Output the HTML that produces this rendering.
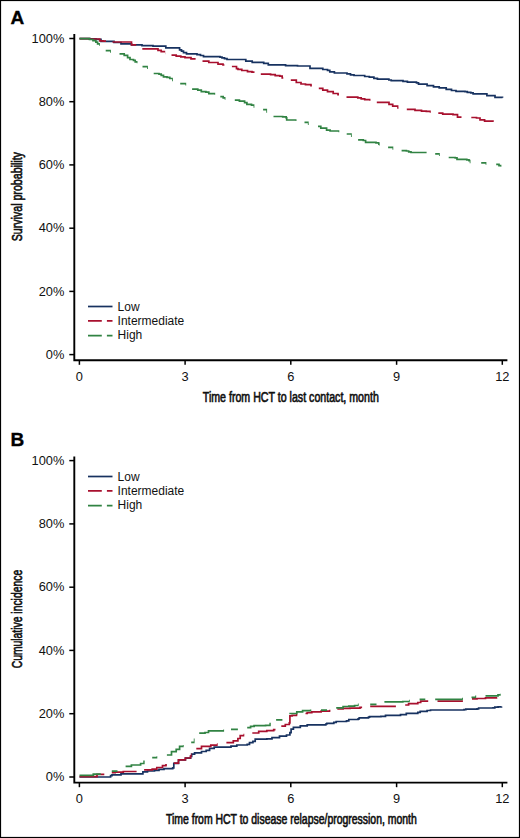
<!DOCTYPE html>
<html><head><meta charset="utf-8"><style>
html,body{margin:0;padding:0;background:#fff;}
body{width:520px;height:838px;overflow:hidden;}
svg{display:block;}
text{font-family:"Liberation Sans", sans-serif;fill:#111;}
.tl{font-size:12px;}
.lg{font-size:12px;}
.tt{font-size:14px;stroke:#111;stroke-width:0.65px;}
.pl{font-size:19px;font-weight:bold;fill:#000;stroke:#000;stroke-width:0.35px;}
</style></head><body>
<svg width="520" height="838" viewBox="0 0 520 838">
<defs><clipPath id="cra"><rect x="79.0" y="0" width="27.0" height="838"/><rect x="112.5" y="0" width="23.7" height="838"/><rect x="142.3" y="0" width="22.9" height="838"/><rect x="171.5" y="0" width="24.1" height="838"/><rect x="202.5" y="0" width="21.9" height="838"/><rect x="231.9" y="0" width="22.6" height="838"/><rect x="260.8" y="0" width="22.5" height="838"/><rect x="290.8" y="0" width="21.1" height="838"/><rect x="318.8" y="0" width="20.2" height="838"/><rect x="346.5" y="0" width="24.0" height="838"/><rect x="376.8" y="0" width="21.7" height="838"/><rect x="406.8" y="0" width="24.0" height="838"/><rect x="438.3" y="0" width="23.2" height="838"/><rect x="471.3" y="0" width="22.5" height="838"/></clipPath><clipPath id="cga"><rect x="79.0" y="0" width="20.9" height="838"/><rect x="105.7" y="0" width="5.2" height="838"/><rect x="119.5" y="0" width="18.0" height="838"/><rect x="142.5" y="0" width="5.4" height="838"/><rect x="153.7" y="0" width="19.2" height="838"/><rect x="180.2" y="0" width="6.0" height="838"/><rect x="192.1" y="0" width="23.1" height="838"/><rect x="220.3" y="0" width="5.2" height="838"/><rect x="234.8" y="0" width="19.6" height="838"/><rect x="263.1" y="0" width="4.0" height="838"/><rect x="273.5" y="0" width="23.0" height="838"/><rect x="304.5" y="0" width="4.2" height="838"/><rect x="318.0" y="0" width="21.3" height="838"/><rect x="346.7" y="0" width="5.1" height="838"/><rect x="358.1" y="0" width="21.6" height="838"/><rect x="388.1" y="0" width="5.2" height="838"/><rect x="401.6" y="0" width="25.0" height="838"/><rect x="435.2" y="0" width="4.6" height="838"/><rect x="448.7" y="0" width="21.8" height="838"/><rect x="481.2" y="0" width="5.2" height="838"/><rect x="496.2" y="0" width="5.2" height="838"/></clipPath><clipPath id="crb"><rect x="79.0" y="0" width="25.3" height="838"/><rect x="111.8" y="0" width="24.8" height="838"/><rect x="144.1" y="0" width="22.8" height="838"/><rect x="173.8" y="0" width="17.9" height="838"/><rect x="196.3" y="0" width="21.4" height="838"/><rect x="226.4" y="0" width="17.9" height="838"/><rect x="252.3" y="0" width="23.2" height="838"/><rect x="281.3" y="0" width="16.1" height="838"/><rect x="305.5" y="0" width="24.9" height="838"/><rect x="337.3" y="0" width="24.8" height="838"/><rect x="370.2" y="0" width="25.7" height="838"/><rect x="405.2" y="0" width="23.0" height="838"/><rect x="437.5" y="0" width="25.4" height="838"/><rect x="472.0" y="0" width="25.3" height="838"/></clipPath><clipPath id="cgb"><rect x="79.0" y="0" width="21.8" height="838"/><rect x="111.8" y="0" width="5.7" height="838"/><rect x="125.6" y="0" width="19.1" height="838"/><rect x="152.2" y="0" width="5.1" height="838"/><rect x="166.9" y="0" width="16.8" height="838"/><rect x="191.2" y="0" width="3.4" height="838"/><rect x="199.2" y="0" width="24.9" height="838"/><rect x="231.0" y="0" width="6.9" height="838"/><rect x="247.2" y="0" width="23.6" height="838"/><rect x="276.1" y="0" width="6.3" height="838"/><rect x="289.3" y="0" width="22.0" height="838"/><rect x="321.0" y="0" width="6.0" height="838"/><rect x="336.2" y="0" width="22.5" height="838"/><rect x="370.2" y="0" width="6.3" height="838"/><rect x="384.4" y="0" width="25.4" height="838"/><rect x="419.6" y="0" width="5.7" height="838"/><rect x="435.2" y="0" width="27.7" height="838"/><rect x="471.5" y="0" width="4.7" height="838"/><rect x="485.5" y="0" width="15.2" height="838"/></clipPath></defs>
<rect x="0" y="0" width="520" height="838" fill="#fff"/>
<rect x="0.5" y="0.5" width="519" height="837" fill="none" stroke="#000" stroke-width="1.2"/>
<path d="M74.3 34.0V360.2H507.4" stroke="#000" stroke-width="1.9" fill="none" stroke-linejoin="miter"/>
<path d="M69.3 354.6H74.3" stroke="#000" stroke-width="1.5"/>
<text transform="translate(64.3 358.8) scale(1.070 1)" text-anchor="end" class="tl">0%</text>
<path d="M69.3 291.4H74.3" stroke="#000" stroke-width="1.5"/>
<text transform="translate(64.3 295.6) scale(1.070 1)" text-anchor="end" class="tl">20%</text>
<path d="M69.3 228.2H74.3" stroke="#000" stroke-width="1.5"/>
<text transform="translate(64.3 232.4) scale(1.070 1)" text-anchor="end" class="tl">40%</text>
<path d="M69.3 164.9H74.3" stroke="#000" stroke-width="1.5"/>
<text transform="translate(64.3 169.1) scale(1.070 1)" text-anchor="end" class="tl">60%</text>
<path d="M69.3 101.7H74.3" stroke="#000" stroke-width="1.5"/>
<text transform="translate(64.3 105.9) scale(1.070 1)" text-anchor="end" class="tl">80%</text>
<path d="M69.3 38.5H74.3" stroke="#000" stroke-width="1.5"/>
<text transform="translate(64.3 42.7) scale(1.070 1)" text-anchor="end" class="tl">100%</text>
<path d="M79.4 360.2V364.8" stroke="#000" stroke-width="1.5"/>
<text transform="translate(79.4 380.6) scale(1.070 1)" text-anchor="middle" class="tl">0</text>
<path d="M185.1 360.2V364.8" stroke="#000" stroke-width="1.5"/>
<text transform="translate(185.1 380.6) scale(1.070 1)" text-anchor="middle" class="tl">3</text>
<path d="M290.8 360.2V364.8" stroke="#000" stroke-width="1.5"/>
<text transform="translate(290.8 380.6) scale(1.070 1)" text-anchor="middle" class="tl">6</text>
<path d="M396.6 360.2V364.8" stroke="#000" stroke-width="1.5"/>
<text transform="translate(396.6 380.6) scale(1.070 1)" text-anchor="middle" class="tl">9</text>
<path d="M502.3 360.2V364.8" stroke="#000" stroke-width="1.5"/>
<text transform="translate(502.3 380.6) scale(1.070 1)" text-anchor="middle" class="tl">12</text>
<text x="290.8" y="401.8" text-anchor="middle" class="tt" textLength="176.0" lengthAdjust="spacingAndGlyphs">Time from HCT to last contact, month</text>
<text transform="translate(22.1 196.7) rotate(-90)" x="0" y="0" text-anchor="middle" class="tt" textLength="89.2" lengthAdjust="spacingAndGlyphs">Survival probability</text>
<text x="10.6" y="23.9" class="pl">A</text>
<path d="M88 306.5H112.5" stroke="#173260" stroke-width="1.70"/>
<path d="M88 320.9H112.5" stroke="#a8102e" stroke-width="1.70" stroke-dasharray="13.8 5.1"/>
<path d="M88 335.6H112.5" stroke="#318343" stroke-width="1.70" stroke-dasharray="13.8 5.1"/>
<text x="117.6" y="310.6" class="lg">Low</text>
<text x="117.6" y="324.8" class="lg">Intermediate</text>
<text x="117.6" y="339.1" class="lg">High</text>
<path d="M74.3 456.4V782.6H507.4" stroke="#000" stroke-width="1.9" fill="none" stroke-linejoin="miter"/>
<path d="M69.3 777.0H74.3" stroke="#000" stroke-width="1.5"/>
<text transform="translate(64.3 781.2) scale(1.070 1)" text-anchor="end" class="tl">0%</text>
<path d="M69.3 713.7H74.3" stroke="#000" stroke-width="1.5"/>
<text transform="translate(64.3 717.9) scale(1.070 1)" text-anchor="end" class="tl">20%</text>
<path d="M69.3 650.4H74.3" stroke="#000" stroke-width="1.5"/>
<text transform="translate(64.3 654.6) scale(1.070 1)" text-anchor="end" class="tl">40%</text>
<path d="M69.3 587.2H74.3" stroke="#000" stroke-width="1.5"/>
<text transform="translate(64.3 591.4) scale(1.070 1)" text-anchor="end" class="tl">60%</text>
<path d="M69.3 523.9H74.3" stroke="#000" stroke-width="1.5"/>
<text transform="translate(64.3 528.1) scale(1.070 1)" text-anchor="end" class="tl">80%</text>
<path d="M69.3 460.6H74.3" stroke="#000" stroke-width="1.5"/>
<text transform="translate(64.3 464.8) scale(1.070 1)" text-anchor="end" class="tl">100%</text>
<path d="M79.4 782.6V787.2" stroke="#000" stroke-width="1.5"/>
<text transform="translate(79.4 803.0) scale(1.070 1)" text-anchor="middle" class="tl">0</text>
<path d="M185.1 782.6V787.2" stroke="#000" stroke-width="1.5"/>
<text transform="translate(185.1 803.0) scale(1.070 1)" text-anchor="middle" class="tl">3</text>
<path d="M290.8 782.6V787.2" stroke="#000" stroke-width="1.5"/>
<text transform="translate(290.8 803.0) scale(1.070 1)" text-anchor="middle" class="tl">6</text>
<path d="M396.6 782.6V787.2" stroke="#000" stroke-width="1.5"/>
<text transform="translate(396.6 803.0) scale(1.070 1)" text-anchor="middle" class="tl">9</text>
<path d="M502.3 782.6V787.2" stroke="#000" stroke-width="1.5"/>
<text transform="translate(502.3 803.0) scale(1.070 1)" text-anchor="middle" class="tl">12</text>
<text x="291.4" y="824.2" text-anchor="middle" class="tt" textLength="250.8" lengthAdjust="spacingAndGlyphs">Time from HCT to disease relapse/progression, month</text>
<text transform="translate(22.1 619.1) rotate(-90)" x="0" y="0" text-anchor="middle" class="tt" textLength="98.5" lengthAdjust="spacingAndGlyphs">Cumulative incidence</text>
<text x="10.6" y="445.9" class="pl">B</text>
<path d="M88 476.5H112.5" stroke="#173260" stroke-width="1.70"/>
<path d="M88 490.9H112.5" stroke="#a8102e" stroke-width="1.70" stroke-dasharray="13.8 5.1"/>
<path d="M88 505.6H112.5" stroke="#318343" stroke-width="1.70" stroke-dasharray="13.8 5.1"/>
<text x="117.6" y="480.6" class="lg">Low</text>
<text x="117.6" y="494.8" class="lg">Intermediate</text>
<text x="117.6" y="509.1" class="lg">High</text>
<g fill="none" stroke-width="1.70" stroke-linejoin="miter" stroke-linecap="butt">
<path d="M79.5 38.6H90.0V38.8H96.0V39.4H101.0V41.3H114.0V42.5H121.0V43.8H131.5V44.9H142.0V45.6H153.0V46.2H165.8V47.9H179.6V49.8H181.5V51.2H183.5V52.6H186.5V53.8H197.0V54.6H200.5V55.5H203.5V56.6H220.0V57.2H222.0V57.9H224.5V58.7H227.0V59.5H245.8V61.2H252.2V62.4H263.7V63.4H268.3V64.8H285.6V65.6H297.5V66.0H310.0V68.3H322.8V69.5H327.5V70.4H329.8V71.9H334.4V73.0H347.0V73.8H350.5V74.8H354.0V75.5H364.7V76.5H369.3V77.2H373.9V78.3H377.4V79.2H388.9V80.0H391.2V80.6H403.0V81.4H407.4V82.2H416.5V82.8H418.5V84.1H427.1V85.6H433.5V86.8H439.2V87.9H446.2V89.4H451.5V90.5H456.0V91.3H465.0V91.6H467.3V92.4H470.8V92.9H473.1V93.9H486.9V95.6H495.0V97.4H502.5V97.8" stroke="#173260"/>
<path d="M79.5 38.6H89.0V39.0H99.8V40.8H103.0V41.2H107.0V42.0H131.5V44.9H140.7V48.9H158.0V50.4H161.2V51.7H166.0V53.5H169.9V55.1H176.2V56.2H180.8V56.9H185.0V57.7H191.0V58.8H199.0V60.3H200.9V61.1H208.8V62.5H218.0V64.2H223.0V65.0H229.0V66.0H230.3V66.5H236.5V68.6H238.0V69.3H241.8V70.5H247.5V71.6H252.0V72.2H258.0V73.5H259.2V74.2H270.6V74.7H275.2V75.7H279.8V76.2H282.2V78.0H287.0V79.0H289.2V80.2H296.3V82.5H301.0V84.0H305.5V84.6H311.0V85.6H315.0V87.0H317.2V88.3H322.8V90.2H327.5V91.7H333.2V93.5H338.0V94.6H343.0V96.0H344.9V97.2H357.8V97.8H361.2V98.9H364.7V99.7H370.0V100.0H374.0V101.5H375.2V102.4H389.0V104.3H392.7V106.1H398.0V107.9H403.0V108.8H405.2V109.4H415.0V110.3H421.5V111.1H426.3V111.4H430.5V112.0H435.0V112.8H436.7V113.2H442.7V114.1H453.0V114.7H457.5V117.2H469.7V117.5H476.5V118.0H480.0V119.8H484.6V121.2H493.8V121.5" stroke="#a8102e" clip-path="url(#cra)"/>
<path d="M79.5 38.6H87.2V38.6H89.5V39.5H93.0V40.7H95.9V42.1H97.6V43.8H99.9V45.0H103.0V48.0H104.1V50.7H110.9V51.9H115.0V53.0H117.9V53.8H124.2V55.3H127.6V57.7H130.0V59.5H133.5V60.4H135.2V61.8H137.5V62.3H140.0V64.5H140.9V66.6H147.9V68.1H151.0V71.0H152.1V73.5H159.0V74.2H161.2V75.4H163.5V76.8H167.0V77.3H169.8V78.5H172.9V80.5H177.0V82.5H178.6V83.7H186.2V84.6H189.0V87.0H190.5V89.2H197.8V90.1H201.3V91.6H205.9V92.1H208.8V93.6H215.2V93.9H218.0V95.5H218.7V96.7H223.2V97.8H225.5V99.0H230.0V99.7H233.2V100.2H239.4V101.1H244.6V102.7H246.9V104.3H251.5V105.2H254.4V107.0H259.0V108.5H261.5V109.6H267.1V111.9H270.0V114.5H271.9V116.5H282.7V116.8H286.2V117.9H286.7V120.0H296.5V120.2H300.0V121.3H302.9V122.4H308.7V124.1H313.0V125.3H316.4V126.4H320.8V128.2H326.6V130.2H330.1V131.0H339.3V131.4H343.0V132.8H345.1V134.0H351.8V136.1H355.0V138.2H356.5V139.8H363.3V140.5H365.6V142.4H376.0V142.8H378.9V144.2H379.7V144.7H384.0V146.2H386.5V147.4H393.3V149.0H397.0V149.8H400.0V150.6H406.4V151.0H408.7V151.8H411.0V152.5H426.6V152.5H431.0V153.2H433.6V153.8H439.8V155.2H444.0V156.4H447.1V157.5H455.2V157.9H457.0V159.4H466.8V159.8H469.0V160.6H470.5V162.5H479.6V162.9H486.4V163.8H494.6V164.4H499.0V165.6H501.4V166.7" stroke="#318343" clip-path="url(#cga)"/>
<path d="M79.5 777.0H110.6V775.6H112.0V774.8H121.0V773.9H142.9V771.8H147.5V771.0H154.5V770.3H159.0V769.3H164.0V768.6H172.7V767.9H173.8V763.3H178.5V760.0H185.4V758.2H190.6V756.4H191.7V754.2H194.6V752.8H201.5V751.5H206.2V750.4H209.6V748.3H214.2V747.2H231.0V746.2H236.8V745.0H247.2V744.3H249.5V742.6H252.9V741.3H255.2V739.2H266.8V738.8H272.0V737.6H279.5V736.1H286.5V735.0H289.9V732.6H291.1V729.1H293.4V727.3H300.3V725.8H307.2V724.8H325.8V724.0H326.9V723.3H333.8V722.3H336.2V721.5H346.5V720.9H348.8V719.5H358.1V718.8H359.2V717.8H368.5V717.2H369.6V716.6H380.9V716.3H385.5V715.3H400.5V714.7H406.3V713.3H417.8V712.4H420.2V711.3H427.1V710.5H430.5V710.0H464.0V709.7H465.8V709.2H477.0V708.8H478.6V708.0H493.0V707.8H494.8V707.2H498.1V706.8H501.5V706.6" stroke="#173260"/>
<path d="M79.5 776.6H97.0V774.4H108.0V773.2H110.2V772.7H115.2V772.1H123.3V771.5H140.0V770.5H142.5V769.8H152.2V769.2H156.8V767.5H162.5V765.6H166.0V764.9H170.0V764.0H172.2V763.1H178.5V759.8H185.4V758.0H190.6V756.2H191.7V754.4H194.0V751.0H194.7V748.7H201.5V746.4H210.8V745.2H217.7V744.2H222.0V743.4H224.8V742.6H233.3V740.8H237.9V738.5H240.2V735.7H244.3V734.5H248.0V733.7H250.7V733.0H258.7V731.4H266.8V730.7H273.7V729.6H278.0V728.0H279.7V726.2H285.3V724.5H289.3V722.8H289.9V715.8H292.2V715.3H296.8V714.7H300.0V714.2H303.9V713.5H307.2V712.6H311.8V711.8H321.1V711.1H330.0V710.5H335.7V709.0H343.1V708.4H350.0V708.1H360.0V707.3H368.6V706.4H403.6V705.0H408.6V703.6H417.8V702.5H420.7V701.1H470.4V698.8H477.0V698.5H485.5V697.9H497.3V697.6" stroke="#a8102e" clip-path="url(#crb)"/>
<path d="M79.5 775.3H93.3V774.2H105.0V772.5H110.2V771.2H120.0V770.0H124.0V768.7H124.0V766.3H131.4V765.0H140.6V763.5H144.1V761.3H148.0V759.5H150.6V757.7H157.3V757.1H162.0V756.0H165.3V755.0H171.5V751.6H176.2V749.3H179.6V746.4H183.7V745.8H188.0V744.0H189.6V742.3H194.6V739.4H197.0V736.0H197.6V733.1H205.0V732.5H208.5V730.8H224.1V730.4H229.4V729.3H240.0V728.5H245.6V727.6H250.6V726.4H254.1V725.6H265.6V725.3H270.2V723.6H274.5V719.9H286.0V716.0H287.7V713.5H296.8V711.8H302.6V710.7H310.7V710.3H319.4V710.1H334.6V707.8H343.1V706.5H348.8V706.1H354.6V705.5H358.7V704.3H382.8V701.9H402.8V701.5H409.8V700.7H418.0V699.4H433.6V699.4H462.9V698.5H469.9V697.4H476.0V696.3H483.9V695.8H498.0V694.9H500.7V693.7" stroke="#318343" clip-path="url(#cgb)"/>
</g>
</svg>
</body></html>
